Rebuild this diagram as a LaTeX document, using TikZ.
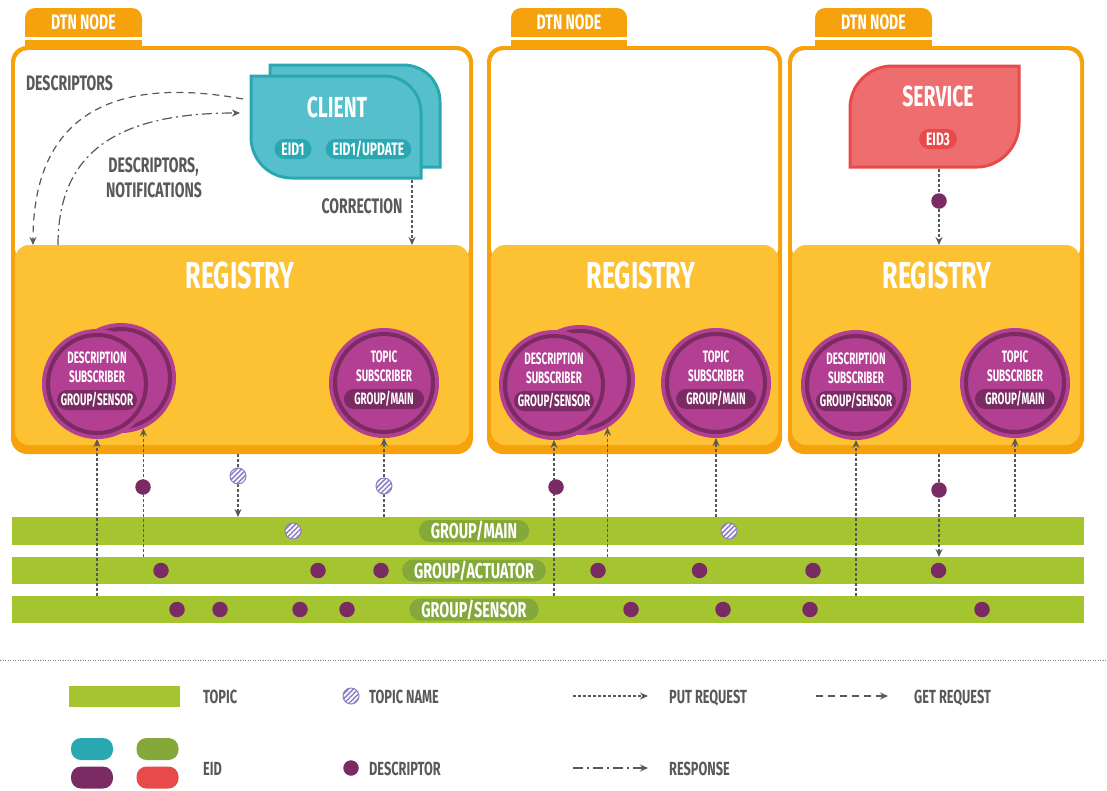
\documentclass[tikz,border=0pt]{standalone}
\usepackage{fontspec}
\setmainfont{Fira Sans}[FakeStretch=0.67]
\newfontfamily\narrowfont{Fira Sans}[FakeStretch=0.6]
\usetikzlibrary{arrows.meta, patterns.meta}

\definecolor{dtnorange}{HTML}{F6A20C}
\definecolor{regyellow}{HTML}{FCC233}
\definecolor{clientfill}{HTML}{55BFCB}
\definecolor{clientdark}{HTML}{2AA8B2}
\definecolor{servicefill}{HTML}{EE6D6E}
\definecolor{servicedark}{HTML}{E84A4A}
\definecolor{subpurple}{HTML}{B23F91}
\definecolor{subdark}{HTML}{7A2B63}
\definecolor{topicgreen}{HTML}{A5C530}
\definecolor{topicdark}{HTML}{84A83A}
\definecolor{hatch}{HTML}{8E7CC3}
\definecolor{labelgray}{HTML}{595959}

\newcommand\sz[1]{\fontsize{#1}{#1}\selectfont\bfseries}

\tikzset{
	frame/.style={rectangle, rounded corners=16pt, fill=dtnorange, inner sep=0pt, outer sep=0pt, anchor=north west},
	registry/.style={rectangle, rounded corners=14pt, fill=regyellow, inner sep=0pt, outer sep=0pt, anchor=north west},
	tablabel/.style={inner sep=0pt, text=white, font=\sz{21}, text height=14.5pt, text depth=0pt},
	reglabel/.style={inner sep=0pt, text=white, font=\sz{37.5}, text height=26pt, text depth=0pt},
	shapelabel/.style={inner sep=0pt, text=white, font=\sz{29}, text height=20pt, text depth=0pt},
	eidpill/.style={rectangle, rounded corners=10pt, minimum height=20pt, inner xsep=7pt, inner ysep=0pt, text=white, font=\sz{18}, text height=12.5pt, text depth=0pt},
	lbl/.style={inner sep=0pt, text=labelgray, font=\sz{21}, text height=14.5pt, text depth=0pt},
	clientshape/.style={draw=clientdark, fill=clientfill, line width=3pt},
	serviceshape/.style={draw=servicedark, fill=servicefill, line width=3pt},
	sub/.style={circle, minimum size=98pt, inner sep=0pt, outer sep=6pt, fill=subpurple, draw=subdark, line width=4pt, preaction={draw=subpurple, line width=12pt}},
	subtext/.style={inner sep=0pt, text=white, font=\narrowfont\sz{16.5}, text height=11.3pt, text depth=0pt},
	subpill/.style={rectangle, rounded corners=10pt, fill=subdark, minimum width=80pt, minimum height=20pt, inner xsep=2pt, inner ysep=0pt, text=white, font=\narrowfont\sz{16.5}, text height=11.5pt, text depth=0pt},
	topicbar/.style={rectangle, fill=topicgreen, inner sep=0pt, outer sep=0pt, minimum width=1072pt},
	barlabel/.style={rectangle, rounded corners=11pt, fill=topicdark, minimum height=22pt, inner xsep=12pt, inner ysep=0pt, text=white, font=\sz{21.5}, text height=15pt, text depth=0pt},
	descriptor/.style={circle, fill=subdark, minimum size=15.5pt, inner sep=0pt},
	topicname/.style={circle, minimum size=16pt, inner sep=0pt, draw=hatch, line width=1pt, preaction={fill=white}, pattern={Lines[angle=45, distance=3.5pt, line width=1.5pt]}, pattern color=hatch},
	eidswatch/.style={rectangle, rounded corners=10pt, minimum width=42pt, minimum height=22pt, inner sep=0pt},
	legendtxt/.style={inner sep=0pt, anchor=west, text=labelgray, font=\sz{19}, text height=13pt, text depth=0pt},
	put/.style={draw=labelgray, line width=1.2pt, dash pattern=on 3pt off 2pt},
	get/.style={draw=labelgray, line width=1.2pt, dash pattern=on 7pt off 5pt},
	resp/.style={draw=labelgray, line width=1.2pt, dash pattern=on 10pt off 4pt on 2pt off 4pt},
	tip/.style={-{Stealth[length=8pt, width=7pt]}}
}

\begin{document}
\begin{tikzpicture}[x=1pt, y=-1pt]
	\useasboundingbox (0,0) rectangle (1107,790);
	
	% dtn nodes with registry
	\foreach \n/\xa/\xb/\ta/\tb/\rx in {1/11/473/25/142/240, 2/487/782/511/627/641, 3/788/1084/815/932/937}
	{
		\node[frame, minimum width={(\xb-\xa)*1pt}, minimum height=408pt] (frame\n) at (\xa,46) {};
		\fill[white, rounded corners=13pt] ({\xa+4},50) rectangle ({\xb-4},262);
		\node[registry, minimum width={(\xb-\xa-8)*1pt}, minimum height=200pt] (reg\n) at ({\xa+4},245) {};
		\node[reglabel] (regtitle\n) at (\rx,275) {REGISTRY};
		\fill[dtnorange, rounded corners=10pt] (\ta,8) rectangle (\tb,37);
		\fill[dtnorange] (\ta,25) rectangle (\tb,37);
		\fill[dtnorange] (\ta,39.5) rectangle (\tb,47);
		\node[tablabel] (tab\n) at ({(\ta+\tb)/2},22.5) {DTN NODE};
	}
	
	% client
	\foreach \dx/\dy in {19/-11, 0/0}
	{
		\draw[clientshape, shift={(\dx,\dy)}] (251,76) -- (384,76) .. controls (405,76) and (421,92) .. (421,113) -- (421,178) -- (292,178) .. controls (269,178) and (251,160) .. (251,137) -- cycle;
	}
	\node[shapelabel] (client) at (337,107) {CLIENT};
	\node[eidpill, fill=clientdark] (eid1) at (293,149) {EID1};
	\node[eidpill, fill=clientdark] (eid1upd) at (368.5,149) {EID1/UPDATE};
	
	% service
	\draw[serviceshape] (850,167) -- (850,108) .. controls (850,85) and (869,66) .. (892,66) -- (1019,66) -- (1019,124) .. controls (1019,147) and (1000,167) .. (977,167) -- cycle;
	\node[shapelabel] (service) at (938,96) {SERVICE};
	\node[eidpill, fill=servicedark] (eid3) at (938,139) {EID3};
	
	\node[lbl] (desc) at (69.5,83.5) {DESCRIPTORS};
	\node[lbl] (descnotif) at (153.5,165) {DESCRIPTORS,};
	\node[lbl] (notif) at (154,190.5) {NOTIFICATIONS};
	\node[lbl] (corrlbl) at (362,206) {CORRECTION};
	
	% topics
	\foreach \nm/\y/\h/\grp in {main/531/28/MAIN, actuator/570.5/27/ACTUATOR, sensor/609.5/27/SENSOR}
	{
		\node[topicbar, minimum height={\h*1pt}] (\nm) at (548,\y) {};
		\node[barlabel] (\nm-lbl) at (474,\y) {GROUP/\grp};
	}
	
	% subscribers
	\node[sub] (d1back) at (121,378) {};
	\node[sub] (d2back) at (580,380) {};
	\foreach \nm/\x/\y/\kind/\grp in {d1/97/384/DESCRIPTION/SENSOR, t1/384/383/TOPIC/MAIN, d2/554/385/DESCRIPTION/SENSOR, t2/716/383/TOPIC/MAIN, d3/856/385/DESCRIPTION/SENSOR, t3/1015/383/TOPIC/MAIN}
	{
		\node[sub] (\nm) at (\x,\y) {};
		\node[subtext, yshift=26pt] (\nm-kind) at (\nm) {\kind};
		\node[subtext, yshift=7pt] (\nm-sub) at (\nm) {SUBSCRIBER};
		\node[subpill, yshift=-16pt] (\nm-grp) at (\nm) {GROUP/\grp};
	}
	
	% requests
	\coordinate (getout) at (243,99);
	\coordinate (getin) at (33,245);
	\coordinate (respout) at (58,245);
	\coordinate (respin) at (240,113);
	\coordinate (corrout) at (412,180);
	\coordinate (svcout) at (939,169);
	\coordinate (tn1) at (238,454);
	\coordinate (pub3) at (939,454);
	\draw[get, tip] (getout) .. controls (140,80) and (33,95) .. (getin);
	\draw[resp, tip] (respout) .. controls (58,150) and (120,113) .. (respin);
	\draw[put, tip] (corrout) -- (corrout |- reg1.north);
	\draw[put, tip] (svcout) -- (svcout |- reg3.north);
	\draw[put, tip] (sensor.north -| d1.south) -- (d1.south);
	\draw[put, tip] (actuator.north -| d1back.-66) -- (d1back.-66);
	\draw[put, tip] (tn1) -- (tn1 |- main.north);
	\draw[put, tip] (main.north -| t1.south) -- (t1.south);
	\draw[put, tip] (sensor.north -| d2.south) -- (d2.south);
	\draw[put, tip] (actuator.north -| d2back.-60) -- (d2back.-60);
	\draw[put, tip] (main.north -| t2.south) -- (t2.south);
	\draw[put, tip] (sensor.north -| d3.south) -- (d3.south);
	\draw[put, tip] (pub3) -- (pub3 |- actuator.north);
	\draw[put, tip] (main.north -| t3.south) -- (t3.south);
	
	\node[descriptor] (p1) at (143,487) {};
	\node[topicname] (h1) at (238,476) {};
	\node[topicname] (h2) at (384,486) {};
	\node[descriptor] (p2) at (556,487) {};
	\node[descriptor] (p3) at (939,490) {};
	\node[descriptor] (p4) at (939,201) {};
	
	\foreach \x [count=\i] in {161,318,381,598,699.5,813,938.5}
		\node[descriptor] (act\i) at (\x,570.5) {};
	\foreach \x [count=\i] in {177,220,300,347,631,723,810,982}
		\node[descriptor] (sen\i) at (\x,609.5) {};
	\foreach \x [count=\i] in {293,729}
		\node[topicname] (mn\i) at (\x,531) {};
	
	% legend
	\draw[gray, line width=1pt, dash pattern=on 1pt off 1.5pt] (0,660) -- (1107,660);
	\node[topicbar, minimum width=111pt, minimum height=21pt] (legtopic) at (124.5,696.5) {};
	\node[legendtxt] (legtopictxt) at (203,696.5) {TOPIC};
	\node[topicname] (legname) at (351,696) {};
	\node[legendtxt] (legnametxt) at (369,696.5) {TOPIC NAME};
	\coordinate (legput) at (573,696);
	\coordinate (legputend) at (648,696);
	\draw[put, tip] (legput) -- (legputend);
	\node[legendtxt] (legputtxt) at (669,696.5) {PUT REQUEST};
	\coordinate (legget) at (816,696);
	\coordinate (leggetend) at (888,696);
	\draw[get, tip] (legget) -- (leggetend);
	\node[legendtxt] (leggettxt) at (914,696.5) {GET REQUEST};
	\foreach \c/\x/\y in {clientdark/92/749, topicdark/157.5/749, subdark/92/777.5, servicedark/157.5/777.5}
		\node[eidswatch, fill=\c] at (\x,\y) {};
	\node[legendtxt] (legeidtxt) at (203,768.5) {EID};
	\node[descriptor] (legdesc) at (351,768) {};
	\node[legendtxt] (legdesctxt) at (369,768.5) {DESCRIPTOR};
	\coordinate (legresp) at (573,768);
	\coordinate (legrespend) at (648,768);
	\draw[resp, tip] (legresp) -- (legrespend);
	\node[legendtxt] (legresptxt) at (669,768.5) {RESPONSE};
\end{tikzpicture}
\end{document}
